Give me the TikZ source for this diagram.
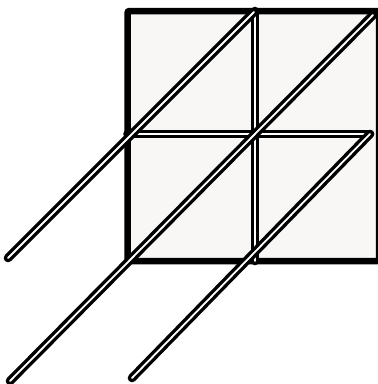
\documentclass[tikz,border=0pt]{standalone}
\begin{document}
\begin{tikzpicture}[x=1pt, y=-1pt]
    \definecolor{borderColour}{HTML}{000000}
    \definecolor{fillColourA}{HTML}{F8F7F5}

    \tikzset{
        rod/.style={draw=borderColour, line width=3.4pt, double=white, double distance=1.8pt, line cap=round},
        frame/.style={draw=borderColour, fill=fillColourA, line width=6.5pt, rounded corners=2pt}
    }

    \useasboundingbox (0,0) rectangle (378,384);

    % Square ABCD with its middle lines
    \coordinate (A) at (127.5,11);
    \coordinate (B) at (379,11);
    \coordinate (C) at (379,261);
    \coordinate (D) at (127.5,261);
    \coordinate (Mtop) at (255,11);
    \coordinate (Mbot) at (255,261);
    \coordinate (Mleft) at (127.5,134);
    \coordinate (Mright) at (370,134);

    \path[frame] (A) -- (B) -- (C) -- (D) -- cycle;

    % Draw middle lines
    \draw[rod] (Mleft) -- (Mright);
    \draw[rod] (Mtop) -- (Mbot);

    % Draw the slanted lines
    \coordinate (P1) at (8,258);
    \coordinate (P2) at (10,381);
    \coordinate (P3) at (132,378);
    \coordinate (Q1) at (254,12);
    \coordinate (Q2) at (373,15);

    \draw[rod] (P1) -- (Q1);
    \draw[rod] (P2) -- (Q2);
    \draw[rod] (P3) -- (Mright);

\end{tikzpicture}
\end{document}
